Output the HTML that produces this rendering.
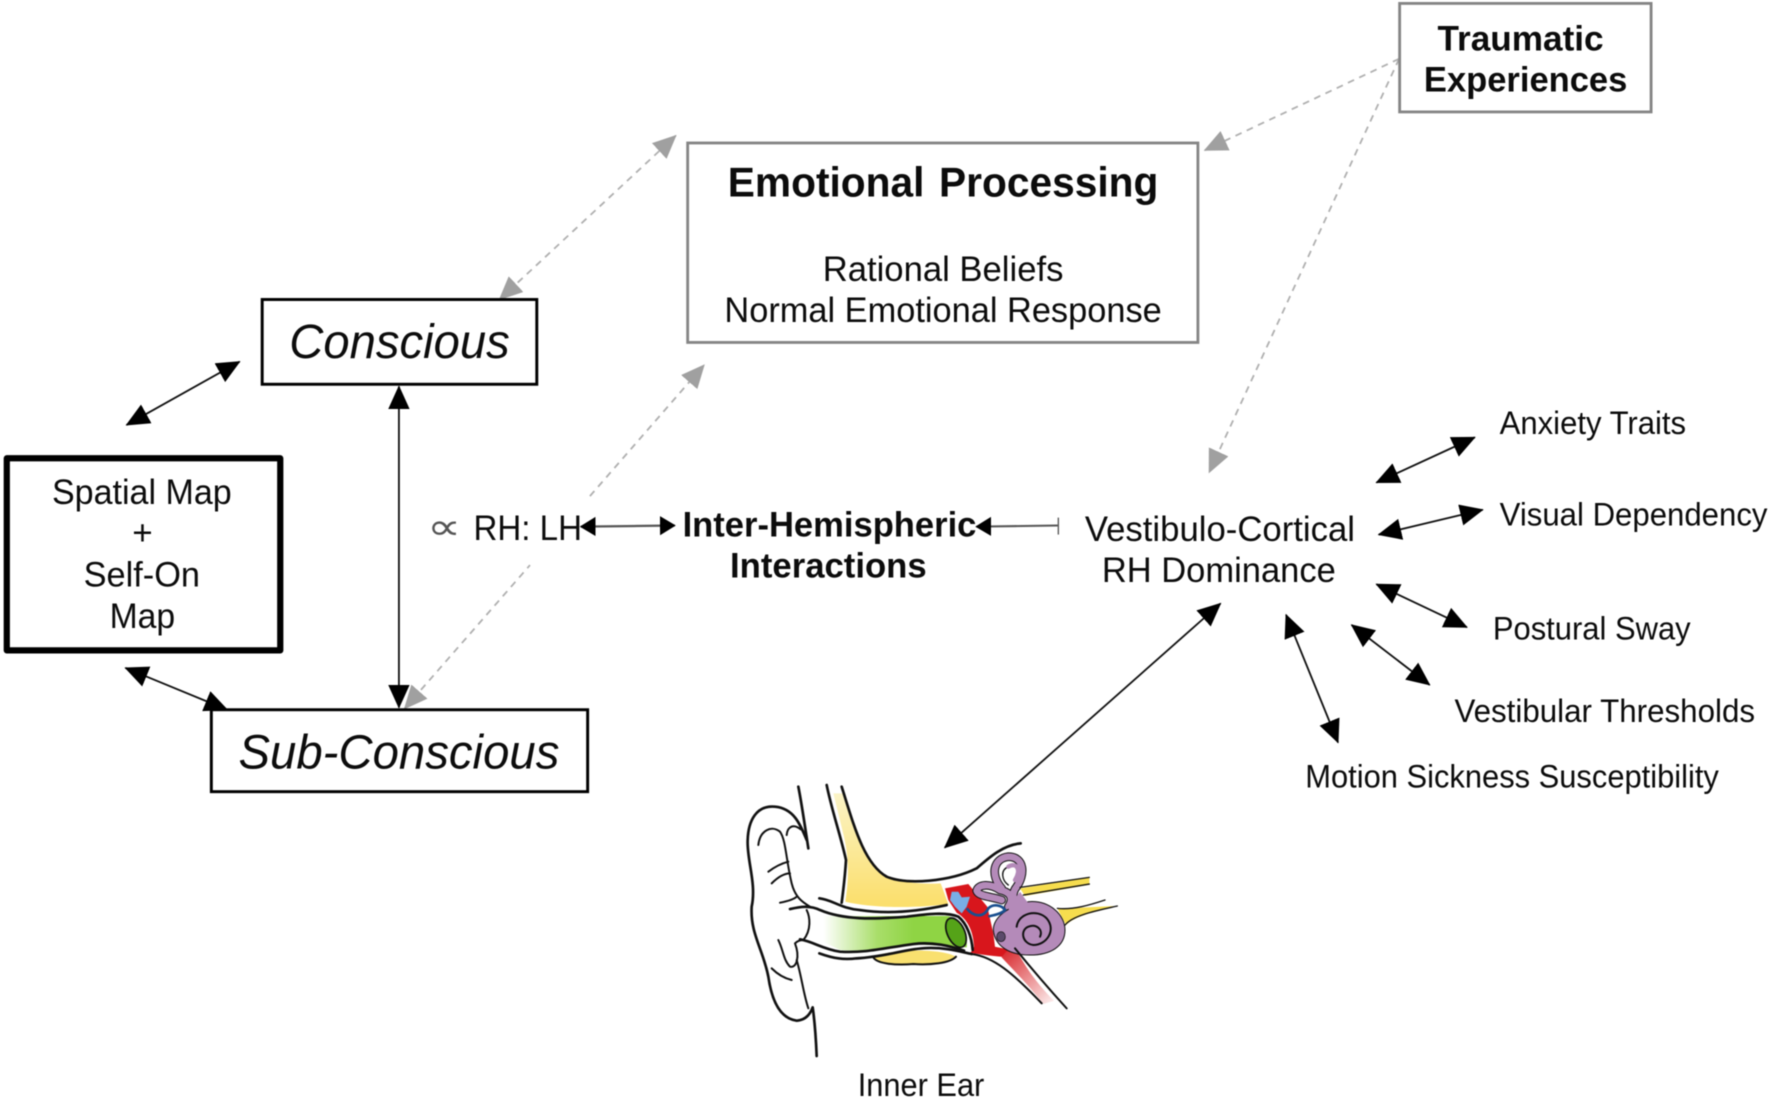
<!DOCTYPE html>
<html lang="en">
<head>
<meta charset="utf-8">
<title>Vestibulo-Cortical Diagram</title>
<style>
html,body{margin:0;padding:0;background:#fff;width:1772px;height:1101px;overflow:hidden}
svg{display:block;filter:blur(.4px)}
text{font-family:"Liberation Sans",Arial,sans-serif;fill:#0c0c0c;transform:translateY(.8px)}
.b{font-weight:bold;font-size:31px}
.i{font-style:italic;font-size:43px}
.s{font-size:31px}
.m{font-size:29px}
.dash{stroke:#b0b0b0;stroke-width:1.6;stroke-dasharray:6 5;fill:none}
.sol{stroke:#111;stroke-width:1.6;fill:none}
.ol{fill:none;stroke:#111;stroke-width:8;stroke-linecap:round;stroke-linejoin:round}
.ot{fill:none;stroke:#111;stroke-width:6;stroke-linecap:round;stroke-linejoin:round}
</style>
</head>
<body>
<svg width="1772" height="1101" viewBox="0 0 1568 974.2" xmlns="http://www.w3.org/2000/svg">
<defs>
<marker id="k" markerUnits="userSpaceOnUse" markerWidth="22" markerHeight="20" refX="20" refY="9.5" orient="auto-start-reverse"><path d="M0,0L21,9.5L0,19Z" fill="#000"/></marker>
<marker id="s" markerUnits="userSpaceOnUse" markerWidth="15" markerHeight="18" refX="13" refY="8.5" orient="auto-start-reverse"><path d="M0,0L14,8.5L0,17Z" fill="#000"/></marker>
<marker id="g" markerUnits="userSpaceOnUse" markerWidth="22" markerHeight="20" refX="20" refY="9.5" orient="auto-start-reverse"><path d="M0,0L21,9.5L0,19Z" fill="#a0a0a0"/></marker>
<linearGradient id="gr" x1="370" x2="640" y1="0" y2="0" gradientUnits="userSpaceOnUse"><stop offset="0" stop-color="#fff"/><stop offset=".6" stop-color="#a9de6a"/><stop offset="1" stop-color="#8fd444"/></linearGradient>
<linearGradient id="ye" x1="0" x2="0" y1="80" y2="430" gradientUnits="userSpaceOnUse"><stop offset="0" stop-color="#fbf5cc"/><stop offset="1" stop-color="#fbdf6d"/></linearGradient>
<linearGradient id="tb" x1="910" x2="1050" y1="570" y2="725" gradientUnits="userSpaceOnUse"><stop offset="0" stop-color="#d8272c"/><stop offset="1" stop-color="#fbe6e6"/></linearGradient>
</defs>

<rect width="1568" height="975" fill="#fff"/>

<!-- dashed connectors -->
<line class="dash" x1="442" y1="265" x2="598" y2="120" marker-start="url(#g)" marker-end="url(#g)"/>
<line class="dash" x1="358" y1="627" x2="469" y2="500" marker-start="url(#g)"/>
<line class="dash" x1="522" y1="439" x2="623" y2="323" marker-end="url(#g)"/>
<line class="dash" x1="1238" y1="52" x2="1066" y2="133" marker-end="url(#g)"/>
<line class="dash" x1="1238" y1="52" x2="1070" y2="418" marker-end="url(#g)"/>

<!-- boxes -->
<rect x="1238.5" y="3" width="222.5" height="96" fill="#fff" stroke="#858585" stroke-width="2.5"/>
<rect x="608.5" y="126.5" width="451.5" height="176.5" fill="#fff" stroke="#858585" stroke-width="2.5"/>
<rect x="232" y="265" width="243" height="75" fill="#fff" stroke="#000" stroke-width="2.6"/>
<rect x="6" y="405.5" width="242" height="170" fill="#fff" stroke="#000" stroke-width="5.5" stroke-linejoin="round"/>
<rect x="187" y="628" width="333" height="72.5" fill="#fff" stroke="#000" stroke-width="2.6"/>

<!-- solid connectors -->
<line class="sol" x1="112" y1="376" x2="212" y2="320" marker-start="url(#k)" marker-end="url(#k)"/>
<line class="sol" x1="353" y1="342" x2="353" y2="626" marker-start="url(#k)" marker-end="url(#k)"/>
<line class="sol" x1="111" y1="591" x2="201" y2="628" marker-start="url(#k)" marker-end="url(#k)"/>
<line x1="514" y1="466" x2="597" y2="465" stroke="#555" stroke-width="2" marker-start="url(#s)" marker-end="url(#s)"/>
<line x1="864" y1="466" x2="936" y2="465" stroke="#555" stroke-width="1.8" marker-start="url(#s)"/>
<line x1="936.5" y1="458" x2="936.5" y2="473" stroke="#555" stroke-width="1.2"/>
<line class="sol" x1="1080" y1="534" x2="836" y2="750" marker-start="url(#k)" marker-end="url(#k)"/>
<line class="sol" x1="1218" y1="427" x2="1305" y2="387" marker-start="url(#k)" marker-end="url(#k)"/>
<line class="sol" x1="1220" y1="473" x2="1312" y2="451" marker-start="url(#k)" marker-end="url(#k)"/>
<line class="sol" x1="1218" y1="517" x2="1298" y2="555" marker-start="url(#k)" marker-end="url(#k)"/>
<line class="sol" x1="1196" y1="553" x2="1265" y2="606" marker-start="url(#k)" marker-end="url(#k)"/>
<line class="sol" x1="1138" y1="544" x2="1184" y2="657" marker-start="url(#k)" marker-end="url(#k)"/>

<!-- labels -->
<text class="b" x="1272" y="44" textLength="147" lengthAdjust="spacingAndGlyphs">Traumatic</text>
<text class="b" x="1260" y="80" textLength="180" lengthAdjust="spacingAndGlyphs">Experiences</text>
<text class="b" style="font-size:37px;word-spacing:3px" x="644" y="173" textLength="381" lengthAdjust="spacingAndGlyphs">Emotional Processing</text>
<text class="s" x="728" y="248" textLength="213" lengthAdjust="spacingAndGlyphs">Rational Beliefs</text>
<text class="s" x="641" y="284" textLength="387" lengthAdjust="spacingAndGlyphs">Normal Emotional Response</text>
<text class="i" x="256" y="316" textLength="195" lengthAdjust="spacingAndGlyphs">Conscious</text>
<text class="i" x="211" y="679" textLength="284" lengthAdjust="spacingAndGlyphs">Sub-Conscious</text>
<text class="s" x="46" y="445" textLength="159" lengthAdjust="spacingAndGlyphs">Spatial Map</text>
<text class="s" x="117" y="481">+</text>
<text class="s" x="74" y="518" textLength="103" lengthAdjust="spacingAndGlyphs">Self-On</text>
<text class="s" x="97" y="555" textLength="58" lengthAdjust="spacingAndGlyphs">Map</text>
<text font-size="32" x="378" y="476" style="fill:#555;font-family:'DejaVu Sans',sans-serif" textLength="30" lengthAdjust="spacingAndGlyphs">∝</text>
<text class="s" x="419" y="477" textLength="96" lengthAdjust="spacingAndGlyphs">RH: LH</text>
<text class="b" x="604" y="474" textLength="260" lengthAdjust="spacingAndGlyphs">Inter-Hemispheric</text>
<text class="b" x="646" y="510" textLength="174" lengthAdjust="spacingAndGlyphs">Interactions</text>
<text class="s" x="960" y="478" textLength="239" lengthAdjust="spacingAndGlyphs">Vestibulo-Cortical</text>
<text class="s" x="975" y="514" textLength="207" lengthAdjust="spacingAndGlyphs">RH Dominance</text>
<text class="m" x="1327" y="383" textLength="165" lengthAdjust="spacingAndGlyphs">Anxiety Traits</text>
<text class="m" x="1327" y="464" textLength="237" lengthAdjust="spacingAndGlyphs">Visual Dependency</text>
<text class="m" x="1321" y="565" textLength="175" lengthAdjust="spacingAndGlyphs">Postural Sway</text>
<text class="m" x="1287" y="638" textLength="266" lengthAdjust="spacingAndGlyphs">Vestibular Thresholds</text>
<text class="m" x="1155" y="696" textLength="366" lengthAdjust="spacingAndGlyphs">Motion Sickness Susceptibility</text>
<text class="m" x="759" y="969" textLength="112" lengthAdjust="spacingAndGlyphs">Inner Ear</text>

<!-- ear illustration -->
<g transform="scale(.88488) translate(700,760) scale(.33333)">
  <!-- fills -->
  <path d="M400,100 L428,100 C455,180 485,300 560,350 C610,372 680,372 722,370 L745,432 C650,445 520,445 436,425 C446,360 448,300 432,230Z" fill="url(#ye)"/>
  <path d="M520,592 C560,568 720,562 768,590 C760,612 680,612 640,610 C590,616 530,612 520,592Z" fill="#f9e06f"/>
  <path d="M370,468 L740,468 C780,470 805,530 800,562 L640,552 C560,566 480,578 420,570 L370,545Z" fill="url(#gr)"/>
  <path d="M960,385 L1168,352 L1168,374 L975,408Z" fill="#f6dd4e"/>
  <path d="M1072,445 C1130,445 1190,440 1252,438 C1190,455 1130,465 1098,495Z" fill="#f6dd4e"/>
  <path d="M905,575 L945,562 C980,630 1020,680 1062,722 L1030,732 C990,680 950,640 905,592Z" fill="url(#tb)"/>
  <path d="M735,385 L805,372 L862,440 L880,520 L885,560 L925,568 L905,590 C860,586 835,582 812,578 L822,560 C820,510 800,475 770,458 L745,420Z" fill="#d8161c"/>
  <!-- semicircular canals -->
  <g fill="none" stroke-linecap="round" stroke-linejoin="round">
    <path d="M925,440 C945,410 925,395 900,390 C870,370 835,372 830,392 C835,410 880,410 905,420" stroke="#111" stroke-width="26"/>
    <path d="M905,385 C870,345 880,295 925,290 C975,290 975,345 950,380 C930,405 945,425 945,450" stroke="#111" stroke-width="26"/>
    <path d="M925,440 C945,410 925,395 900,390 C870,370 835,372 830,392 C835,410 880,410 905,420" stroke="#b48ab9" stroke-width="20"/>
    <path d="M905,385 C870,345 880,295 925,290 C975,290 975,345 950,380 C930,405 945,425 945,450" stroke="#b48ab9" stroke-width="20"/>
    <path d="M925,320 C900,330 905,360 925,375" stroke="#111" stroke-width="4"/>
    <path d="M925,320 C950,305 965,330 945,360" stroke="#b48ab9" stroke-width="13"/>
  </g>
  <path d="M880,510 C880,470 925,440 985,425 C1050,420 1095,465 1095,510 C1095,560 1050,585 990,585 C930,585 885,560 880,510Z" fill="#b48ab9" stroke="#111" stroke-width="3"/>
  <path d="M925,440 L960,395 L985,430 L930,470Z" fill="#b48ab9"/>
  <path d="M950,500 C955,460 1010,445 1040,475 C1070,510 1040,555 1000,555 C965,550 960,510 985,500 C1010,490 1030,510 1020,530" class="ot"/>
  <ellipse cx="903" cy="530" rx="13" ry="15" fill="#5b4a6a" stroke="#111" stroke-width="2"/>
  <!-- vestibular blue -->
  <path d="M755,395 L775,395 L785,412 L810,410 L800,440 L785,460 L765,440 L750,420Z" fill="#79aee6"/>
  <path d="M800,445 C820,470 850,475 865,445 C880,430 905,435 915,450 C900,465 875,465 865,470" fill="none" stroke="#1a4f8f" stroke-width="8"/>
  <!-- outer ear -->
  <path class="ol" d="M295,80 C305,130 315,200 325,265"/>
  <path class="ol" d="M320,240 C300,190 280,145 225,140 C170,135 145,180 143,240 C140,300 170,370 155,440 C150,520 190,570 205,650 C215,720 240,775 290,782 C315,780 330,765 338,742 C345,790 348,840 350,888"/>
  <path class="ot" d="M175,255 C180,210 215,195 240,215 C258,240 258,300 275,370 C285,410 305,425 330,440"/>
  <path class="ot" d="M260,225 C262,200 280,190 302,208"/>
  <path class="ot" d="M205,335 C225,320 245,310 265,305"/>
  <path class="ot" d="M215,370 C235,350 255,340 270,340"/>
  <path class="ot" d="M240,428 C255,425 280,420 290,410"/>
  <path class="ot" d="M310,540 C335,510 330,470 320,450"/>
  <path class="ot" d="M235,540 C250,570 250,600 270,620 C290,625 300,590 285,550 C295,540 305,540 310,540"/>
  <path class="ot" d="M215,625 C235,645 255,655 275,660"/>
  <path class="ot" d="M290,600 C305,650 310,700 325,745"/>
  <!-- canal lines -->
  <path class="ol" d="M270,447 C300,440 330,435 360,450 C430,480 520,478 620,470 C680,462 740,455 775,470 C800,490 815,530 818,570"/>
  <path class="ol" d="M358,415 C400,420 420,445 480,450 C560,462 650,455 740,435"/>
  <path class="ol" d="M300,538 C340,545 370,568 420,575 C500,580 560,562 640,552 C700,545 750,558 792,572"/>
  <path class="ol" d="M358,580 C400,595 430,600 470,595 C560,590 620,565 680,564 C740,562 780,575 815,582"/>
  <ellipse cx="768" cy="518" rx="26" ry="47" transform="rotate(-25 768 518)" fill="#55a318" stroke="#111" stroke-width="5"/>
  <!-- skin lines -->
  <path class="ol" d="M380,75 C395,150 420,220 438,300 C435,350 430,390 425,428"/>
  <path class="ol" d="M425,80 C460,190 490,310 560,350 C620,375 750,365 830,325 C870,290 910,255 962,250"/>
  <path class="ot" d="M520,592 C530,612 590,616 640,612 C690,615 750,610 768,590"/>
  <!-- nerve lines & tube -->
  <path class="ot" style="stroke-width:4" d="M960,382 L1168,352"/>
  <path class="ot" style="stroke-width:4" d="M970,405 L1168,372"/>
  <path class="ot" style="stroke-width:4" d="M1072,445 C1120,450 1170,435 1215,420"/>
  <path class="ot" style="stroke-width:4" d="M1095,495 C1120,465 1190,452 1252,438"/>
  <path class="ot" d="M815,582 C880,590 940,640 1025,730"/>
  <path class="ot" d="M945,565 C990,620 1050,690 1100,745"/>
</g>
</svg>
</body>
</html>
